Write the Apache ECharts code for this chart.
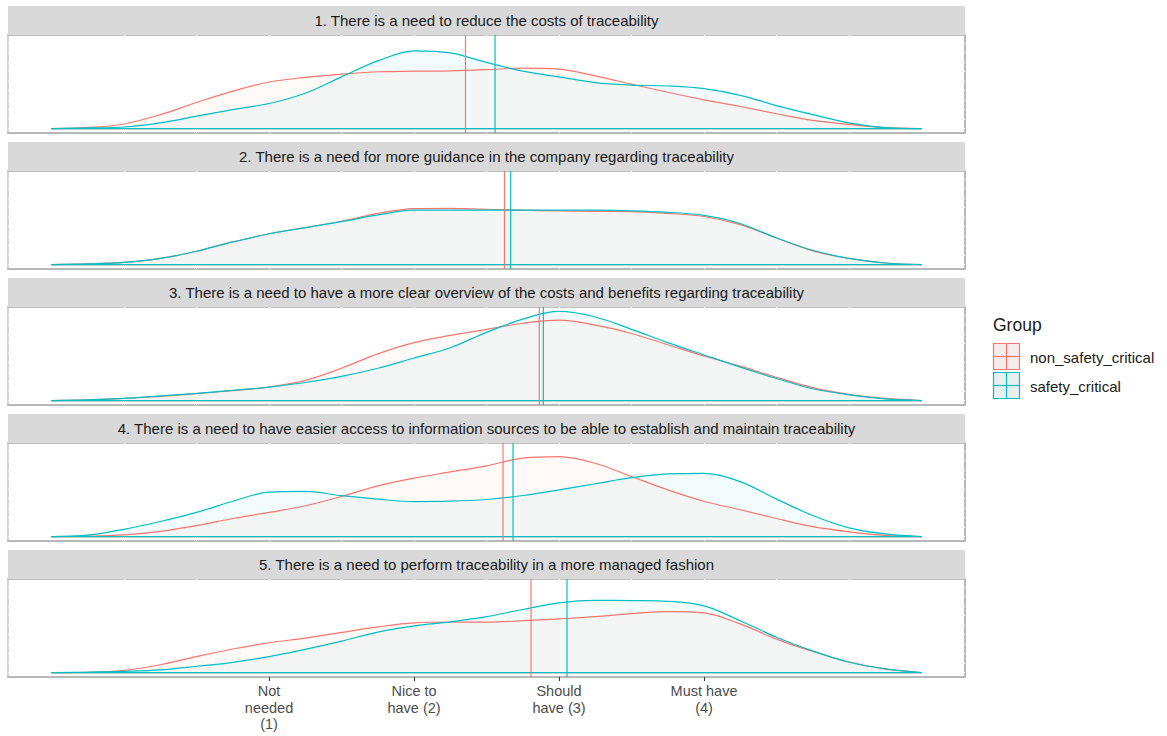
<!DOCTYPE html>
<html>
<head>
<meta charset="utf-8">
<script src="https://cdn.jsdelivr.net/npm/echarts@6/dist/echarts.min.js"></script>
<style>
  html, body { margin: 0; padding: 0; background: #ffffff; }
  #chart { width: 1167px; height: 736px; }
</style>
</head>
<body>
<div id="chart"></div>
<script>
// Evaluation points of the density estimates (rating scale units)
const xGrid = [-0.5, -0.25, 0, 0.25, 0.5, 0.75, 1, 1.25, 1.5, 1.75, 2, 2.25, 2.5,
               2.75, 3, 3.25, 3.5, 3.75, 4, 4.25, 4.5, 4.75, 5, 5.25, 5.5];

// Kernel density of the answers, one array per statement and group
const q1NonSafety = [0, 0.005, 0.024, 0.073, 0.137, 0.197, 0.245, 0.269, 0.286, 0.299, 0.302, 0.304, 0.310,
                     0.318, 0.313, 0.277, 0.234, 0.191, 0.151, 0.116, 0.078, 0.043, 0.022, 0.005, 0];
const q1Safety    = [0, 0.003, 0.008, 0.030, 0.065, 0.100, 0.132, 0.186, 0.272, 0.356, 0.409, 0.398, 0.348,
                     0.302, 0.272, 0.242, 0.229, 0.224, 0.210, 0.175, 0.121, 0.073, 0.030, 0.005, 0];
const q2NonSafety = [0, 0.003, 0.011, 0.032, 0.070, 0.119, 0.162, 0.194, 0.228, 0.269, 0.294, 0.296, 0.291,
                     0.286, 0.283, 0.280, 0.279, 0.269, 0.253, 0.210, 0.140, 0.072, 0.032, 0.008, 0];
const q2Safety    = [0, 0.003, 0.011, 0.032, 0.070, 0.119, 0.162, 0.194, 0.226, 0.261, 0.286, 0.286, 0.286,
                     0.286, 0.286, 0.286, 0.283, 0.275, 0.259, 0.216, 0.140, 0.075, 0.032, 0.008, 0];
const q3NonSafety = [0, 0.003, 0.011, 0.022, 0.036, 0.052, 0.071, 0.106, 0.170, 0.246, 0.305, 0.343, 0.375,
                     0.407, 0.423, 0.397, 0.353, 0.294, 0.235, 0.181, 0.122, 0.068, 0.033, 0.011, 0];
const q3Safety    = [0, 0.003, 0.011, 0.025, 0.038, 0.054, 0.071, 0.095, 0.127, 0.170, 0.224, 0.278, 0.359,
                     0.429, 0.469, 0.440, 0.375, 0.305, 0.240, 0.176, 0.116, 0.062, 0.030, 0.009, 0];
const q4NonSafety = [0, 0.002, 0.009, 0.027, 0.057, 0.095, 0.127, 0.162, 0.211, 0.267, 0.308, 0.340, 0.372,
                     0.413, 0.421, 0.386, 0.316, 0.246, 0.186, 0.141, 0.095, 0.052, 0.025, 0.006, 0];
const q4Safety    = [0, 0.007, 0.038, 0.079, 0.127, 0.186, 0.234, 0.238, 0.215, 0.197, 0.184, 0.186, 0.195,
                     0.216, 0.246, 0.278, 0.310, 0.330, 0.333, 0.289, 0.197, 0.111, 0.046, 0.014, 0];
const q5NonSafety = [0, 0.001, 0.011, 0.041, 0.084, 0.124, 0.157, 0.181, 0.211, 0.240, 0.262, 0.266, 0.265,
                     0.273, 0.283, 0.294, 0.310, 0.321, 0.314, 0.256, 0.176, 0.111, 0.057, 0.019, 0];
const q5Safety    = [0, 0.002, 0.006, 0.014, 0.033, 0.054, 0.084, 0.122, 0.165, 0.213, 0.246, 0.267, 0.294,
                     0.332, 0.367, 0.380, 0.379, 0.375, 0.351, 0.273, 0.186, 0.114, 0.054, 0.019, 0];

// Group means (vertical lines)
const meansNonSafety = [2.355, 2.624, 2.864, 2.614, 2.807];
const meansSafety    = [2.559, 2.667, 2.892, 2.683, 3.055];

const panelTitles = [
  '1. There is a need to reduce the costs of traceability',
  '2. There is a need for more guidance in the company regarding traceability',
  '3. There is a need to have a more clear overview of the costs and benefits regarding traceability',
  '4. There is a need to have easier access to information sources to be able to establish and maintain traceability',
  '5. There is a need to perform traceability in a more managed fashion'
];
const groupNames = ['non_safety_critical', 'safety_critical'];
const tickValues = [1, 2, 3, 4];
const tickLabels = ['Not\nneeded\n(1)', 'Nice to\nhave (2)', 'Should\nhave (3)', 'Must have\n(4)'];
// positions of the (white) grid lines that cut through the panel border
const xGridLines = [0, 0.5, 1, 1.5, 2, 2.5, 3, 3.5, 4, 4.5, 5];
const yGridLines = [0, 0.05, 0.1, 0.15, 0.2, 0.25, 0.3, 0.35, 0.4, 0.45];

const nonSafetyByPanel = [q1NonSafety, q2NonSafety, q3NonSafety, q4NonSafety, q5NonSafety];
const safetyByPanel = [q1Safety, q2Safety, q3Safety, q4Safety, q5Safety];

const RED = '#F8766D', CYAN = '#00BFC4';
const X_MIN = -0.8, X_MAX = 5.8, Y_MIN = -0.0235, Y_MAX = 0.4925;
const PANEL_LEFT = 8, PANEL_RIGHT = 965, PANEL_TOP = 35, PANEL_H = 98, PITCH = 136, STRIP_H = 29;
const FONT = '"Liberation Sans", Arial, sans-serif';

const grids = [], xAxes = [], yAxes = [], series = [], graphics = [];

function notchTicks(values) {
  return { show: true, inside: true, length: 3, customValues: values,
           lineStyle: { color: '#ffffff', width: 1 } };
}

for (let i = 0; i < 5; i++) {
  const top = PANEL_TOP + PITCH * i;
  const last = i === 4;
  grids.push({ left: PANEL_LEFT, width: PANEL_RIGHT - PANEL_LEFT, top: top, height: PANEL_H,
               show: true, backgroundColor: '#ffffff', borderWidth: 0 });

  xAxes.push({
    gridIndex: i, type: 'value', min: X_MIN, max: X_MAX, position: 'bottom',
    axisLine: { show: true, onZero: false, lineStyle: { color: '#b8b8b8', width: 2 } },
    axisTick: last
      ? { show: true, inside: false, length: 4, customValues: tickValues, lineStyle: { color: '#333333', width: 1 } }
      : notchTicks(xGridLines),
    axisLabel: last
      ? { show: true, customValues: tickValues, margin: 6, color: '#4d4d4d', fontSize: 14.5, lineHeight: 16.5,
          fontFamily: FONT, verticalAlign: 'top',
          formatter: v => tickLabels[tickValues.indexOf(Math.round(v))] || '' }
      : { show: false },
    splitLine: { show: false }
  });
  xAxes.push({
    gridIndex: i, type: 'value', min: X_MIN, max: X_MAX, position: 'top',
    axisLine: { show: true, onZero: false, lineStyle: { color: '#bfbfbf', width: 2 } },
    axisTick: notchTicks(xGridLines), axisLabel: { show: false }, splitLine: { show: false }
  });
  yAxes.push({
    gridIndex: i, type: 'value', min: Y_MIN, max: Y_MAX, position: 'left',
    axisLine: { show: true, onZero: false, lineStyle: { color: '#c6c6c6', width: 1.5 } },
    axisTick: notchTicks(yGridLines), axisLabel: { show: false }, splitLine: { show: false }
  });
  yAxes.push({
    gridIndex: i, type: 'value', min: Y_MIN, max: Y_MAX, position: 'right',
    axisLine: { show: true, onZero: false, lineStyle: { color: '#b8b8b8', width: 2 } },
    axisTick: notchTicks(yGridLines), axisLabel: { show: false }, splitLine: { show: false }
  });

  const groups = [
    { name: groupNames[0], data: nonSafetyByPanel[i], mean: meansNonSafety[i], color: RED, fill: 'rgba(248,118,109,0.07)' },
    { name: groupNames[1], data: safetyByPanel[i], mean: meansSafety[i], color: CYAN, fill: 'rgba(0,191,196,0.07)' }
  ];
  groups.forEach(g => {
    // density curve with its shaded area
    series.push({
      type: 'line', name: g.name, xAxisIndex: 2 * i, yAxisIndex: 2 * i,
      data: xGrid.map((x, k) => [x, g.data[k]]),
      smooth: 0.35, showSymbol: false, silent: true,
      lineStyle: { color: g.color, width: 1.2 },
      areaStyle: { color: g.fill, origin: 'auto' },
      z: 2
    });
    // bottom outline of the density polygon
    series.push({
      type: 'line', name: g.name, xAxisIndex: 2 * i, yAxisIndex: 2 * i,
      data: [[xGrid[0], 0], [xGrid[xGrid.length - 1], 0]],
      showSymbol: false, silent: true,
      lineStyle: { color: g.color, width: 1.2 }, z: 2
    });
  });
  // group means as vertical lines
  groups.forEach(g => {
    series.push({
      type: 'line', name: g.name, xAxisIndex: 2 * i, yAxisIndex: 2 * i,
      data: [[g.mean, Y_MIN], [g.mean, Y_MAX]],
      showSymbol: false, silent: true,
      lineStyle: { color: g.color, width: 1.2 }, z: 3
    });
  });

  // facet strip
  graphics.push({
    type: 'rect', shape: { x: PANEL_LEFT, y: top - STRIP_H, width: PANEL_RIGHT - PANEL_LEFT, height: STRIP_H },
    style: { fill: '#d9d9d9' }, silent: true, z: 1
  });
  graphics.push({
    type: 'text', x: (PANEL_LEFT + PANEL_RIGHT) / 2, y: top - STRIP_H / 2, silent: true, z: 2,
    style: { text: panelTitles[i], fill: '#1a1a1a', font: '15px ' + FONT, textAlign: 'center', textVerticalAlign: 'middle' }
  });
}

// legend
graphics.push({
  type: 'text', x: 993, y: 325, silent: true,
  style: { text: 'Group', fill: '#1a1a1a', font: '17.5px ' + FONT, textAlign: 'left', textVerticalAlign: 'middle' }
});
const keyColors = [RED, CYAN];
const keyFills = ['#f3eded', '#e9efef'];
groupNames.forEach((name, k) => {
  const y0 = 343 + k * 29;
  graphics.push({
    type: 'rect', shape: { x: 993.5, y: y0 + 0.5, width: 26, height: 26 }, silent: true,
    style: { fill: keyFills[k], stroke: keyColors[k], lineWidth: 1.2 }
  });
  graphics.push({
    type: 'line', shape: { x1: 993.5, y1: y0 + 13.5, x2: 1019.5, y2: y0 + 13.5 }, silent: true,
    style: { stroke: keyColors[k], lineWidth: 1.2 }
  });
  graphics.push({
    type: 'line', shape: { x1: 1006.5, y1: y0 + 0.5, x2: 1006.5, y2: y0 + 26.5 }, silent: true,
    style: { stroke: keyColors[k], lineWidth: 1.2 }
  });
  graphics.push({
    type: 'text', x: 1030, y: y0 + 14, silent: true,
    style: { text: name, fill: '#1a1a1a', font: '15px ' + FONT, textAlign: 'left', textVerticalAlign: 'middle' }
  });
});

const chart = echarts.init(document.getElementById('chart'), null, { renderer: 'svg' });
chart.setOption({
  animation: false,
  backgroundColor: '#ffffff',
  grid: grids,
  xAxis: xAxes,
  yAxis: yAxes,
  series: series,
  graphic: graphics
});
</script>
</body>
</html>
